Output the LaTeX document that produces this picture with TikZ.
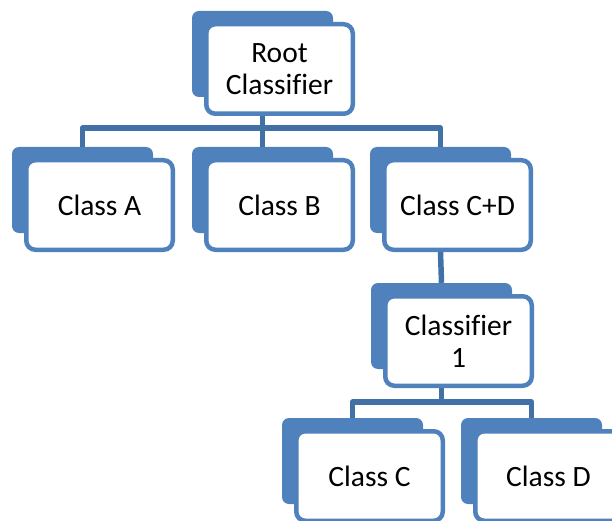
\documentclass[tikz,border=0pt]{standalone}
\usepackage{fontspec}
\setmainfont{Carlito}[Ligatures=CommonOff]
\usetikzlibrary{calc}

\definecolor{tabblue}{HTML}{4F81BD}
\definecolor{linkblue}{HTML}{4271A8}

\tikzset{
  backbox/.style={fill=tabblue, rounded corners=7pt, minimum width=141pt,
    minimum height=86pt, inner sep=0pt},
  frontbox/.style={draw=tabblue, fill=white, line width=4.5pt, rounded corners=9pt,
    minimum width=146.5pt, minimum height=89.5pt, inner sep=0pt, align=center,
    font=\fontsize{29.5}{32}\selectfont},
  link/.style={draw=linkblue, line width=5.5pt}
}

\begin{document}
\begin{tikzpicture}[x=1pt, y=-1pt, line join=round]

	\path[use as bounding box, clip] (0,0) rectangle (612,521);

	% --- top level: root classifier ---
	\node[backbox] (rootbk) at (262.5,54) {};
	\node[frontbox] (root) at (279.5,69) {Root\\Classifier};

	% --- second level: classes A, B, C+D ---
	\node[backbox] (clsAbk) at (82.5,190) {};
	\node[backbox] (clsBbk) at (262.5,190) {};
	\node[backbox] (clsCDbk) at (440.5,190) {};

	% connectors root -> second level (drawn under the front boxes)
	\coordinate (bar1) at (0,128);
	\draw[link] (rootbk.south |- root.south) -- (rootbk.south |- bar1)
		-| (clsAbk.north);
	\draw[link] (rootbk.south |- bar1) -- (clsBbk.north);
	\draw[link] (rootbk.south |- bar1) -| (clsCDbk.north);

	\node[frontbox] (clsA) at (99.5,205) {Class A};
	\node[frontbox] (clsB) at (279.5,205) {Class B};
	\node[frontbox] (clsCD) at (457.5,205) {Class C+D};

	% --- third level: classifier 1 ---
	\node[backbox] (cl1bk) at (441.5,326) {};
	\draw[link] (clsCDbk.south |- clsCD.south) -- (cl1bk.north);
	\node[frontbox] (cl1) at (458.5,341) {Classifier\\1};

	% --- fourth level: classes C and D ---
	\node[backbox] (clsCbk) at (352.5,461) {};
	\node[backbox] (clsDbk) at (531.5,461) {};

	\coordinate (bar2) at (0,402);
	\draw[link] (cl1bk.south |- cl1.south) -- (cl1bk.south |- bar2)
		-| (clsCbk.north);
	\draw[link] (cl1bk.south |- bar2) -| (clsDbk.north);

	\node[frontbox] (clsC) at (369.5,476) {Class C};
	\node[frontbox] (clsD) at (548.5,476) {Class D};

\end{tikzpicture}
\end{document}
